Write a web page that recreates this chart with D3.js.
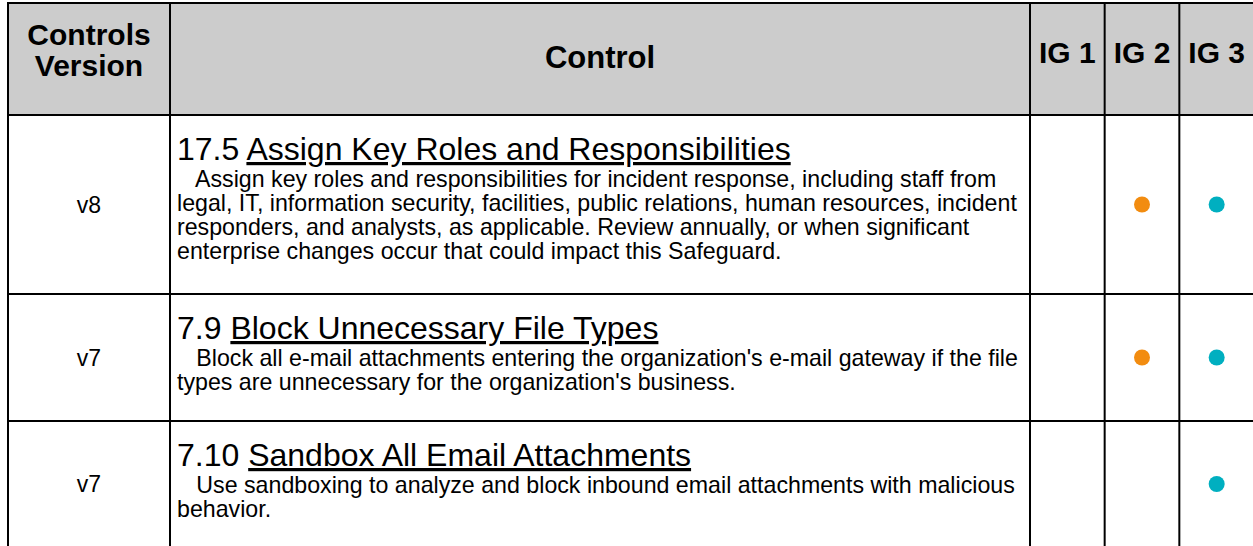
<!DOCTYPE html>
<html><head><meta charset="utf-8">
<script src="https://cdn.jsdelivr.net/npm/d3@7"></script>
<style>
html,body{margin:0;padding:0;background:#fff;}
svg{display:block;}
text{font-family:"Liberation Sans",Arial,Helvetica,sans-serif;fill:#000;}
</style></head>
<body><svg id="c" width="1253" height="546"></svg>
<script>
// ---- data ----
const headers = ["Controls\nVersion", "Control", "IG 1", "IG 2", "IG 3"];
const versions = ["v8", "v7", "v7"];
const controlIds = ["17.5", "7.9", "7.10"];
const controlTitles = ["Assign Key Roles and Responsibilities", "Block Unnecessary File Types", "Sandbox All Email Attachments"];
const descriptions = [
  ["   Assign key roles and responsibilities for incident response, including staff from",
   "legal, IT, information security, facilities, public relations, human resources, incident",
   "responders, and analysts, as applicable. Review annually, or when significant",
   "enterprise changes occur that could impact this Safeguard."],
  ["   Block all e-mail attachments entering the organization's e-mail gateway if the file",
   "types are unnecessary for the organization's business."],
  ["   Use sandboxing to analyze and block inbound email attachments with malicious",
   "behavior."]
];
const igLabels = ["IG 1", "IG 2", "IG 3"];
const ig1 = [false, false, false];
const ig2 = [true, true, false];
const ig3 = [true, true, true];
const igColors = {"IG 1": "#5b9bd5", "IG 2": "#f28c10", "IG 3": "#00afc0"};

// ---- layout ----
const svg = d3.select("#c");
const colEdges = [8, 170, 1030, 1254];      // version | control | IG block
const headerTop = 3, headerBottom = 115;
const rowEdges = [115, 294, 421, 547];
const igX = d3.scaleBand().domain(igLabels).range([colEdges[2], colEdges[3]]);
const rowY = d3.scaleOrdinal().domain(d3.range(versions.length)).range(rowEdges.slice(0, -1));
const rowH = i => rowEdges[i + 1] - rowEdges[i];

// header background
svg.append("rect").attr("x", colEdges[0]).attr("y", headerTop)
  .attr("width", colEdges[3] - colEdges[0]).attr("height", headerBottom - headerTop)
  .attr("fill", "#cccccc");

// header text
const hdr = svg.append("g").attr("font-weight", "bold").attr("font-size", 30).attr("text-anchor", "middle");
const vLines = headers[0].split("\n");
hdr.selectAll("text.v").data(vLines).join("text")
  .attr("x", (colEdges[0] + colEdges[1]) / 2)
  .attr("y", (d, i) => 45 + i * 31)
  .text(d => d);
hdr.append("text").attr("x", (colEdges[1] + colEdges[2]) / 2).attr("y", 68).attr("font-size", 31).text(headers[1]);
hdr.selectAll("text.ig").data(igLabels).join("text")
  .attr("x", d => igX(d) + igX.bandwidth() / 2).attr("y", 63).text(d => d);

// rows
const rows = svg.selectAll("g.row").data(versions).join("g").attr("class", "row");
rows.append("text")
  .attr("x", (colEdges[0] + colEdges[1]) / 2)
  .attr("y", (d, i) => rowY(i) + rowH(i) / 2 + 8)
  .attr("text-anchor", "middle").attr("font-size", 23)
  .text(d => d);

rows.each(function (d, i) {
  const g = d3.select(this);
  const x0 = colEdges[1] + 7;
  const t = g.append("text").attr("x", x0).attr("y", rowY(i) + 45).attr("font-size", 32);
  t.append("tspan").text(controlIds[i] + " ");
  t.append("tspan").attr("text-decoration", "underline").text(controlTitles[i]);
  g.selectAll("text.desc").data(descriptions[i]).join("text")
    .attr("class", "desc")
    .attr("x", x0).attr("y", (s, j) => rowY(i) + 72 + j * 24)
    .attr("font-size", 23.2)
    .attr("xml:space", "preserve")
    .style("white-space", "pre")
    .text(s => s);
  const flags = [ig1[i], ig2[i], ig3[i]];
  g.selectAll("circle").data(igLabels.filter((l, k) => flags[k])).join("circle")
    .attr("cx", l => igX(l) + igX.bandwidth() / 2)
    .attr("cy", rowY(i) + rowH(i) / 2)
    .attr("r", 8)
    .attr("fill", l => igColors[l]);
});

// grid lines
const grid = svg.append("g").attr("stroke", "#000").attr("stroke-width", 2);
const verticals = [colEdges[0], colEdges[1], ...igLabels.map(l => igX(l)), colEdges[3]];
grid.selectAll("line.v").data(verticals).join("line")
  .attr("x1", d => d).attr("x2", d => d).attr("y1", headerTop - 1).attr("y2", 560);
const horizontals = [headerTop, ...rowEdges];
grid.selectAll("line.h").data(horizontals).join("line")
  .attr("x1", colEdges[0] - 1).attr("x2", colEdges[3] + 1).attr("y1", d => d).attr("y2", d => d);
</script></body></html>
